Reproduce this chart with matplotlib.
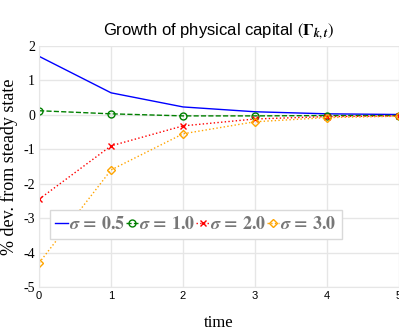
import numpy as np
import matplotlib.pyplot as plt

plt.rcParams['mathtext.fontset'] = 'stix'

# data
t = [0, 1, 2, 3, 4, 5]
sigma_05 = [1.70, 0.64, 0.23, 0.09, 0.03, 0.01]
sigma_10 = [0.12, 0.03, -0.03, -0.03, -0.02, -0.02]
sigma_20 = [-2.45, -0.90, -0.32, -0.12, -0.05, -0.03]
sigma_30 = [-4.30, -1.60, -0.55, -0.20, -0.08, -0.04]
labels = [r'$\boldsymbol{\sigma}\,\mathbf{=}\,\mathbf{0.5}$', r'$\boldsymbol{\sigma}\,\mathbf{=}\,\mathbf{1.0}$',
          r'$\boldsymbol{\sigma}\,\mathbf{=}\,\mathbf{2.0}$', r'$\boldsymbol{\sigma}\,\mathbf{=}\,\mathbf{3.0}$']
yticks = [2, 1, 0, -1, -2, -3, -4, -5]

fig = plt.figure(figsize=(3.99, 3.31), dpi=100)
ax = fig.add_axes([0.098, 0.133, 0.902, 0.728])

ax.plot(t, sigma_05, color='blue', lw=1, label=labels[0])
ax.plot(t, sigma_10, color='green', lw=1, ls='--', marker='o', ms=5, mfc='none', label=labels[1])
ax.plot(t, sigma_20, color='red', lw=1, ls=':', marker='x', ms=5, label=labels[2])
ax.plot(t, sigma_30, color='orange', lw=1, ls=':', marker='D', ms=4, mfc='none', label=labels[3])

ax.set_xlim(0, 5)
ax.set_ylim(-5, 2)
ax.set_xticks(t)
ax.set_yticks(yticks)
ax.set_xticklabels([str(v) for v in t], family='Liberation Sans', fontsize=8)
ax.set_yticklabels([str(v) for v in yticks], family='Liberation Serif', fontsize=10)
ax.tick_params(length=0, pad=3)
ax.grid(True, color='#e6e6e6', lw=1)
for s in ax.spines.values():
    s.set_visible(False)
ax.spines['left'].set_visible(True)
ax.spines['left'].set_color('#e6e6e6')
ax.spines['bottom'].set_visible(True)
ax.spines['bottom'].set_color('#e6e6e6')

ax.set_title(r'Growth of physical capital $\left(\mathbf{\Gamma}_{\boldsymbol{k,t}}\right)$',
             family='Liberation Sans', fontsize=12, pad=8)
ax.set_ylabel('% dev. from steady state', family='Liberation Serif', fontsize=13, labelpad=4)
ax.set_xlabel('time', family='Liberation Serif', fontsize=12, labelpad=10)

leg = ax.legend(loc='upper left', bbox_to_anchor=(0.03, 0.32), ncol=4, fontsize=13,
                handlelength=0.7, handletextpad=0.05, columnspacing=0.05,
                borderpad=0.3, borderaxespad=0, fancybox=False, framealpha=1,
                edgecolor='#d9d9d9')
for txt in leg.get_texts():
    txt.set_color('#777777')

fig.savefig('out.png', dpi=100)
